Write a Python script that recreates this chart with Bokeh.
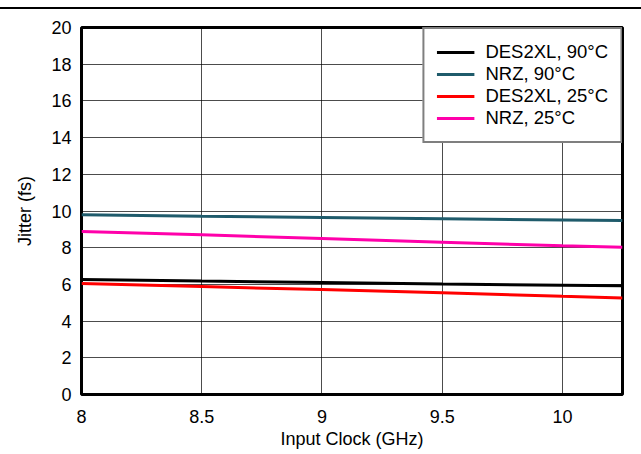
from bokeh.plotting import figure
from bokeh.models import FixedTicker, Legend, LegendItem, Div
from bokeh.layouts import column
from bokeh.embed import file_html
from bokeh.resources import INLINE

# ---- data ----
clock_ghz = [8.0, 8.5, 9.0, 9.5, 10.0, 10.25]
des2xl_90 = [6.27, 6.18, 6.10, 6.02, 5.95, 5.92]
nrz_90 = [9.80, 9.72, 9.65, 9.58, 9.51, 9.48]
des2xl_25 = [6.05, 5.88, 5.72, 5.55, 5.35, 5.26]
nrz_25 = [8.88, 8.70, 8.50, 8.30, 8.10, 8.02]

series_names = ["DES2XL, 90°C", "NRZ, 90°C", "DES2XL, 25°C", "NRZ, 25°C"]
series_colors = ["#000000", "#1F5B6B", "#FF0000", "#FF00AA"]

x_ticks = [8, 8.5, 9, 9.5, 10]
x_tick_labels = ["8", "8.5", "9", "9.5", "10"]
y_ticks = list(range(0, 21, 2))

FONT = "Liberation Sans"

p = figure(width=641, height=443, x_range=(8, 10.25), y_range=(0, 20),
           output_backend="svg", toolbar_location=None,
           min_border_left=81, min_border_right=19, min_border_top=18,
           min_border_bottom=58)

p.outline_line_color = "black"
p.outline_line_width = 3

p.xaxis.ticker = FixedTicker(ticks=x_ticks)
p.xaxis.major_label_overrides = {t: l for t, l in zip(x_ticks, x_tick_labels)}
p.yaxis.ticker = FixedTicker(ticks=y_ticks)

for ax in (p.xaxis, p.yaxis):
    ax.axis_line_color = None
    ax.major_tick_line_color = None
    ax.minor_tick_line_color = None
    ax.major_tick_out = 0
    ax.major_tick_in = 0
    ax.major_label_text_font = FONT
    ax.major_label_text_font_size = "18px"
    ax.major_label_text_color = "black"
    ax.axis_label_text_font = FONT
    ax.axis_label_text_font_size = "18px"
    ax.axis_label_text_font_style = "normal"
    ax.axis_label_text_color = "black"

p.xaxis.axis_label = "Input Clock (GHz)"
p.yaxis.axis_label = "Jitter (fs)"
p.xaxis.major_label_standoff = 15
p.yaxis.major_label_standoff = 10
p.xaxis.axis_label_standoff = 3
p.yaxis.axis_label_standoff = 13

p.grid.grid_line_color = "black"
p.grid.grid_line_alpha = 0.7
p.grid.grid_line_width = 1

items = []
for name, ys, col in zip(series_names, [des2xl_90, nrz_90, des2xl_25, nrz_25], series_colors):
    r = p.line(clock_ghz, ys, line_color=col, line_width=3)
    items.append(LegendItem(label=name, renderers=[r]))

legend = Legend(items=items, location="top_right")
legend.border_line_color = "black"
legend.border_line_width = 2
legend.background_fill_alpha = 1
legend.margin = 0
legend.padding = 12
legend.spacing = 0
legend.label_height = 20
legend.glyph_height = 20
legend.glyph_width = 38
legend.label_standoff = 11
legend.label_text_font = FONT
legend.label_text_font_size = "18.5px"
legend.label_text_color = "black"
p.add_layout(legend)

top_rule = Div(width=641, height=2, margin=(7, 0, 0, 0),
               styles={"background-color": "black"})

layout = column(top_rule, p, spacing=0)

open("out.html", "w").write(file_html(layout, INLINE))
